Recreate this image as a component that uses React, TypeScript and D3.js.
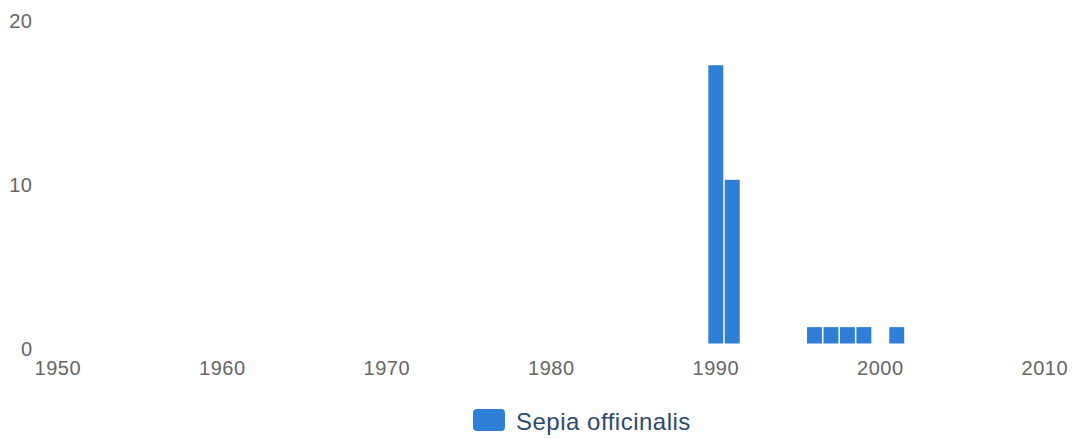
import React from "react";
import * as d3 from "d3";

const years = [1990, 1991, 1996, 1997, 1998, 1999, 2001];
const counts = [17, 10, 1, 1, 1, 1, 1];
const xTicks = [1950, 1960, 1970, 1980, 1990, 2000, 2010];
const yTicks = [0, 10, 20];
const seriesName = "Sepia officinalis";

const W = 1074;
const H = 439;
const BAR = "#2f7fd9";
const AXIS = "#666666";
const FONT = "'Liberation Sans', Arial, Helvetica, sans-serif";

export default function App() {
  const x = d3.scaleLinear().domain([1950, 2010]).range([57.8, 1044.8]);
  const y = d3.scaleLinear().domain([0, 20]).range([343.5, 16.1]);
  const step = x(1951) - x(1950);
  const bw = step - 1.5;
  return (
    <svg
      width={W}
      height={H}
      style={{ position: "absolute", left: 0, top: 0, background: "#fff" }}
      fontFamily={FONT}
    >
      {yTicks.map((t) => (
        <text
          key={t}
          x={32.5}
          y={y(t) + 12}
          textAnchor="end"
          fontSize={20}
          letterSpacing={0.5}
          fill={AXIS}
        >
          {t}
        </text>
      ))}
      {xTicks.map((t) => (
        <text
          key={t}
          x={x(t)}
          y={375}
          textAnchor="middle"
          fontSize={20}
          letterSpacing={0.5}
          fill={AXIS}
        >
          {t}
        </text>
      ))}
      {years.map((yr, i) => (
        <rect
          key={yr}
          x={x(yr) - bw / 2}
          y={y(counts[i])}
          width={bw}
          height={y(0) - y(counts[i])}
          fill={BAR}
        />
      ))}
      <rect x={473} y={409} width={32} height={22} rx={4} fill={BAR} />
      <text x={516} y={430} fontSize={24} letterSpacing={0.5} fill="#2b4a6e">
        {seriesName}
      </text>
    </svg>
  );
}
